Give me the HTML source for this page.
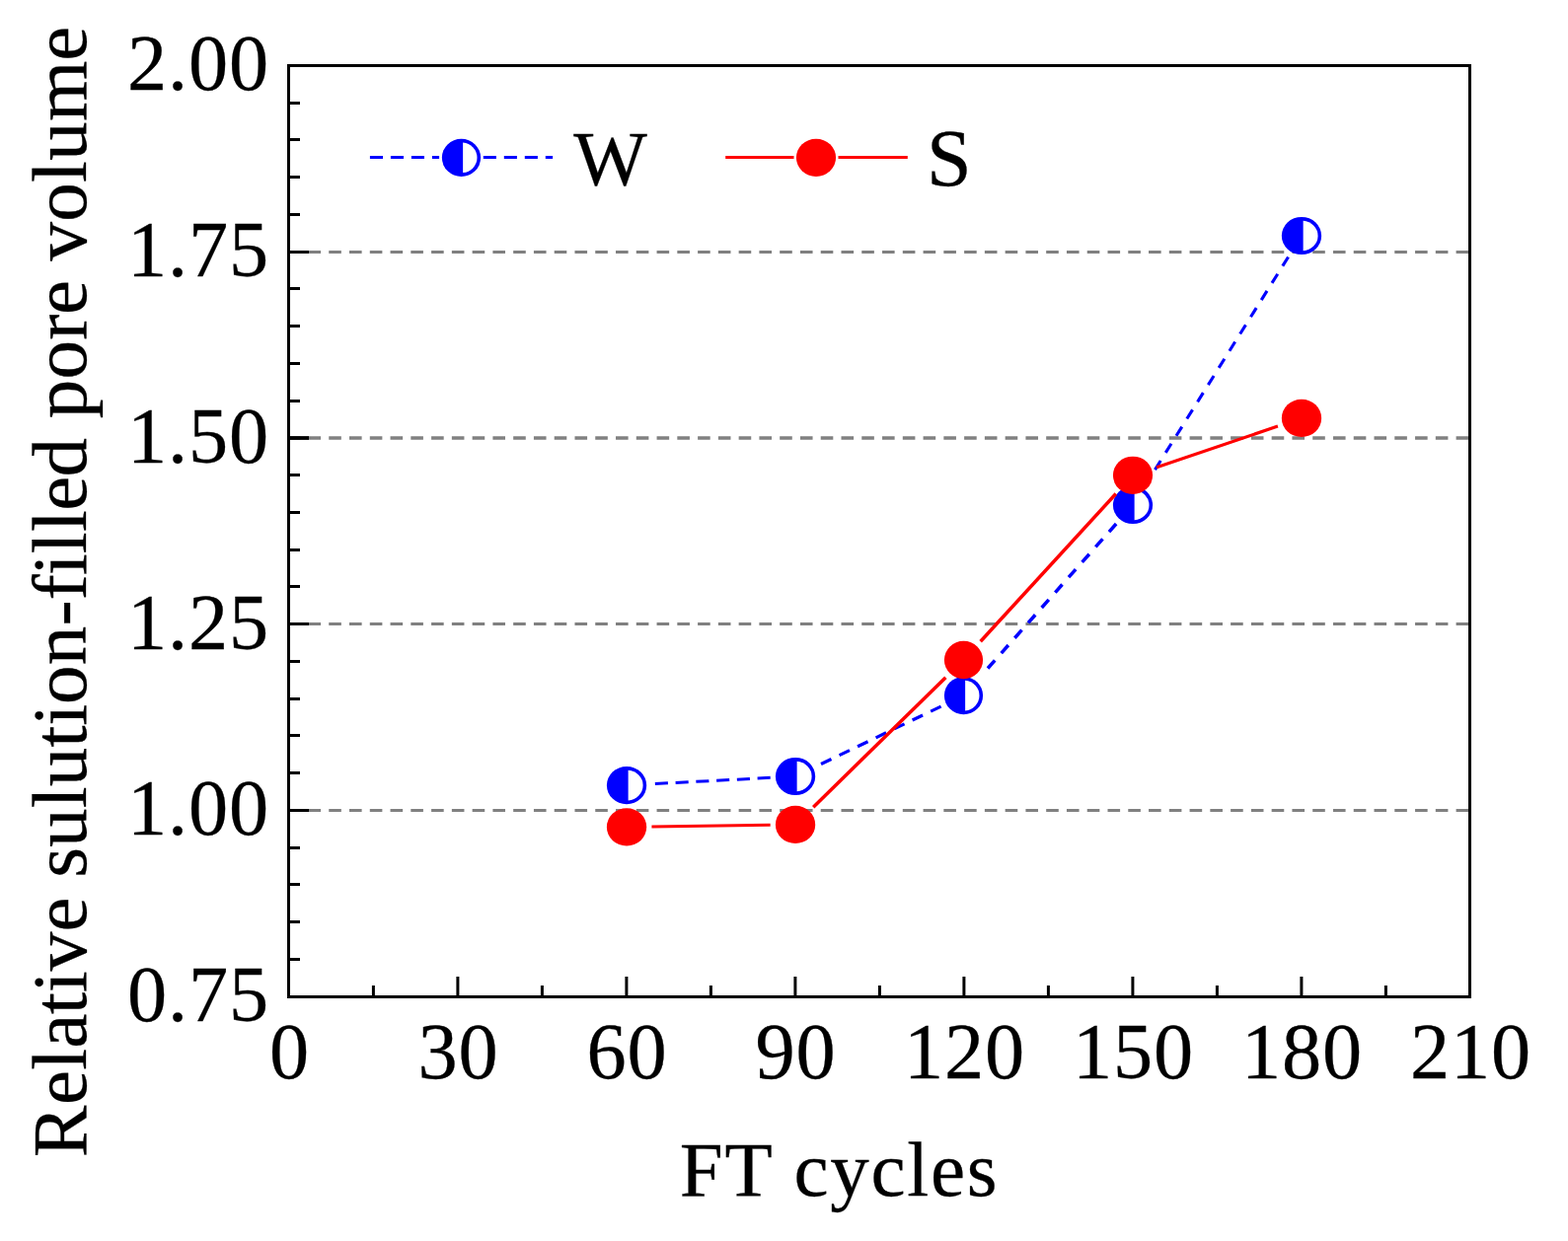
<!DOCTYPE html>
<html lang="en"><head><meta charset="utf-8"><title>Relative sulution-filled pore volume vs FT cycles</title>
<style>html,body{margin:0;padding:0;background:#fff;overflow:hidden}svg{display:block}</style></head>
<body>
<svg width="1589" height="1258" viewBox="0 0 1589 1258">
<rect x="0" y="0" width="1589" height="1258" fill="#fff"/>
<g stroke="#808080" stroke-width="3" stroke-dasharray="12.6 8.17" fill="none">
<line x1="291.7" y1="821.5" x2="1488" y2="821.5" stroke-width="3"/>
<line x1="291.7" y1="632.5" x2="1488" y2="632.5" stroke-width="3"/>
<line x1="291.7" y1="444.0" x2="1488" y2="444.0" stroke-width="3.6"/>
<line x1="291.7" y1="255.5" x2="1488" y2="255.5" stroke-width="3"/>
</g>
<g stroke="#000" stroke-width="3" fill="none">
<line x1="292.5" y1="972.50" x2="304" y2="972.50"/>
<line x1="292.5" y1="934.50" x2="304" y2="934.50"/>
<line x1="292.5" y1="896.50" x2="304" y2="896.50"/>
<line x1="292.5" y1="859.50" x2="304" y2="859.50"/>
<line x1="292.5" y1="821.50" x2="313" y2="821.50"/>
<line x1="292.5" y1="783.50" x2="304" y2="783.50"/>
<line x1="292.5" y1="745.50" x2="304" y2="745.50"/>
<line x1="292.5" y1="708.50" x2="304" y2="708.50"/>
<line x1="292.5" y1="670.50" x2="304" y2="670.50"/>
<line x1="292.5" y1="632.50" x2="313" y2="632.50"/>
<line x1="292.5" y1="594.50" x2="304" y2="594.50"/>
<line x1="292.5" y1="557.50" x2="304" y2="557.50"/>
<line x1="292.5" y1="519.50" x2="304" y2="519.50"/>
<line x1="292.5" y1="481.50" x2="304" y2="481.50"/>
<line x1="292.5" y1="444" x2="313" y2="444" stroke-width="3.8"/>
<line x1="292.5" y1="406.50" x2="304" y2="406.50"/>
<line x1="292.5" y1="368.50" x2="304" y2="368.50"/>
<line x1="292.5" y1="330.50" x2="304" y2="330.50"/>
<line x1="292.5" y1="292.50" x2="304" y2="292.50"/>
<line x1="292.5" y1="255.50" x2="313" y2="255.50"/>
<line x1="292.5" y1="217.50" x2="304" y2="217.50"/>
<line x1="292.5" y1="179.50" x2="304" y2="179.50"/>
<line x1="292.5" y1="141.50" x2="304" y2="141.50"/>
<line x1="292.5" y1="104.50" x2="304" y2="104.50"/>
<line x1="378.40" y1="1010.5" x2="378.40" y2="999"/>
<line x1="463.90" y1="1010.5" x2="463.90" y2="990"/>
<line x1="549.40" y1="1010.5" x2="549.40" y2="999"/>
<line x1="634.90" y1="1010.5" x2="634.90" y2="990"/>
<line x1="720.40" y1="1010.5" x2="720.40" y2="999"/>
<line x1="805.90" y1="1010.5" x2="805.90" y2="990"/>
<line x1="891.40" y1="1010.5" x2="891.40" y2="999"/>
<line x1="976.90" y1="1010.5" x2="976.90" y2="990"/>
<line x1="1062.40" y1="1010.5" x2="1062.40" y2="999"/>
<line x1="1147.90" y1="1010.5" x2="1147.90" y2="990"/>
<line x1="1233.40" y1="1010.5" x2="1233.40" y2="999"/>
<line x1="1318.90" y1="1010.5" x2="1318.90" y2="990"/>
<line x1="1404.40" y1="1010.5" x2="1404.40" y2="999"/>
</g>
<rect x="292.5" y="66.5" width="1197.0" height="944.0" fill="none" stroke="#000" stroke-width="3"/>
<g stroke="#0000ff" stroke-width="3" stroke-dasharray="13.1 7.9" fill="none">
<line x1="780.69" y1="788.35" x2="663.80" y2="794.57" stroke-width="3" stroke-dasharray="13.10 7.68"/>
<line x1="953.61" y1="716.10" x2="831.97" y2="774.55" stroke-width="3.2" stroke-dasharray="11.60 8.95"/>
<line x1="1131.13" y1="530.99" x2="1000.99" y2="677.52" stroke-width="3.5" stroke-dasharray="10.80 9.77"/>
<line x1="1305.52" y1="260.53" x2="1170.45" y2="476.17" stroke-width="3.1" stroke-dasharray="10.80 9.50"/>
<line x1="374.9" y1="159.5" x2="445.1" y2="159.5"/>
<line x1="489.8" y1="159.5" x2="560.1" y2="159.5"/>
</g>
<g><ellipse cx="635.05" cy="796.1" rx="20.15" ry="19.10" fill="#0000ff"/><path d="M636.65 780.77 A16.55 15.40 0 0 1 636.65 811.43 Z" fill="#fff"/></g>
<g><ellipse cx="806.05" cy="787.0" rx="20.15" ry="19.10" fill="#0000ff"/><path d="M807.65 771.67 A16.55 15.40 0 0 1 807.65 802.33 Z" fill="#fff"/></g>
<g><ellipse cx="976.5" cy="705.1" rx="19.60" ry="19.10" fill="#0000ff"/><path d="M978.10 689.78 A16.00 15.40 0 0 1 978.10 720.42 Z" fill="#fff"/></g>
<g><ellipse cx="1148.0" cy="512.0" rx="20.10" ry="19.10" fill="#0000ff"/><path d="M1149.60 496.67 A16.50 15.40 0 0 1 1149.60 527.33 Z" fill="#fff"/></g>
<g><ellipse cx="1319.0" cy="239.0" rx="20.15" ry="19.10" fill="#0000ff"/><path d="M1320.60 223.67 A16.55 15.40 0 0 1 1320.60 254.33 Z" fill="#fff"/></g>
<g><ellipse cx="467.5" cy="159.85" rx="19.65" ry="19.05" fill="#0000ff"/><path d="M469.10 144.58 A16.05 15.35 0 0 1 469.10 175.12 Z" fill="#fff"/></g>
<g stroke="#ff0000" stroke-width="3" fill="none">
<line x1="660.45" y1="838.03" x2="780.65" y2="836.27" stroke-width="3"/>
<line x1="824.20" y1="818.13" x2="958.35" y2="686.77" stroke-width="3.5"/>
<line x1="993.66" y1="650.27" x2="1130.84" y2="500.53" stroke-width="3.5"/>
<line x1="1172.06" y1="473.65" x2="1294.94" y2="432.05" stroke-width="3.2"/>
<line x1="735.2" y1="159.5" x2="804.5" y2="159.5"/>
<line x1="849.5" y1="159.5" x2="919.8" y2="159.5"/>
</g>
<ellipse cx="635.05" cy="838.4" rx="20.15" ry="19.15" fill="#ff0000"/>
<ellipse cx="806.05" cy="835.9" rx="20.15" ry="19.15" fill="#ff0000"/>
<ellipse cx="976.5" cy="669.0" rx="19.60" ry="19.15" fill="#ff0000"/>
<ellipse cx="1148.0" cy="481.8" rx="20.10" ry="19.15" fill="#ff0000"/>
<ellipse cx="1319.0" cy="423.9" rx="20.15" ry="19.15" fill="#ff0000"/>
<ellipse cx="827" cy="159.8" rx="20.1" ry="19.1" fill="#ff0000"/>
<g font-family="'Liberation Serif', serif" font-size="80.3" fill="#000" stroke="#000" stroke-width="0.3" letter-spacing="0.9">
<text x="273" y="1035.10" text-anchor="end">0.75</text>
<text x="273" y="846.35" text-anchor="end">1.00</text>
<text x="273" y="657.60" text-anchor="end">1.25</text>
<text x="273" y="468.85" text-anchor="end">1.50</text>
<text x="273" y="280.10" text-anchor="end">1.75</text>
<text x="273" y="91.35" text-anchor="end">2.00</text>
<text x="293.50" y="1092.7" text-anchor="middle">0</text>
<text x="464.50" y="1092.7" text-anchor="middle">30</text>
<text x="635.50" y="1092.7" text-anchor="middle">60</text>
<text x="806.50" y="1092.7" text-anchor="middle">90</text>
<text x="977.50" y="1092.7" text-anchor="middle">120</text>
<text x="1148.50" y="1092.7" text-anchor="middle">150</text>
<text x="1319.50" y="1092.7" text-anchor="middle">180</text>
<text x="1490.50" y="1092.7" text-anchor="middle">210</text>
</g>
<g font-family="'Liberation Serif', serif" font-size="79" fill="#000" stroke="#000" stroke-width="0.3">
<text x="581.3" y="187.3">W</text>
<text x="938.9" y="187.7" font-size="82">S</text>
<text x="688.8" y="1211.8" letter-spacing="1.72">FT cycles</text>
<text transform="translate(86.8 1174.2) rotate(-90)" dx="1.00 0.56 0.19 -0.12 -0.23 -0.12 -0.12 0.33 -0.23 0.08 0.09 0.33 -0.16 0.29 -0.16 -0.16 0.29 0.29 -0.52 -0.91 0.10 0.10 -0.70 -0.81 0.22 -0.03 0.22 0.22 -0.59 -0.34 -0.03 0.22 0.22 0.12 0.57 -0.38">Relative sulution-filled pore volume</text>
</g>
</svg>
</body></html>
